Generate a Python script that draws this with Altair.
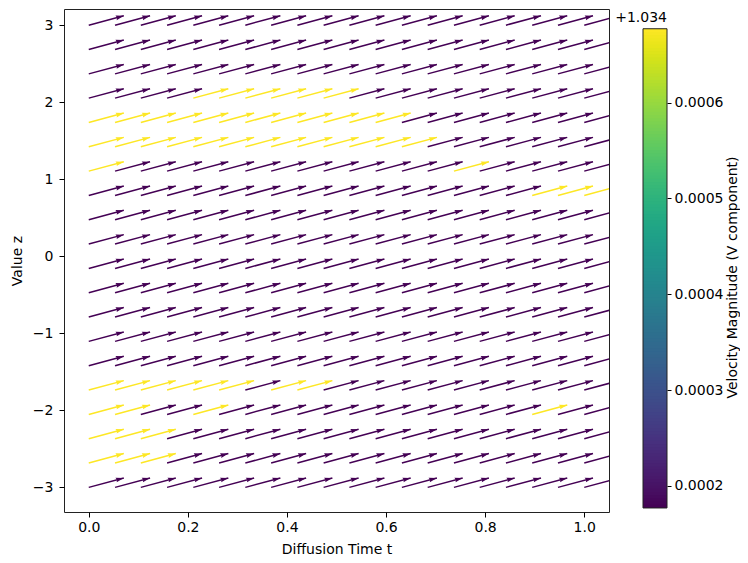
import altair as alt
import numpy as np
import pandas as pd

# ---- data ----
T_GRID = [0.000, 0.053, 0.105, 0.158, 0.211, 0.263, 0.316, 0.368, 0.421, 0.474,
          0.526, 0.579, 0.632, 0.684, 0.737, 0.789, 0.842, 0.895, 0.947, 1.000]
Z_GRID = [3.000, 2.684, 2.368, 2.053, 1.737, 1.421, 1.105, 0.789, 0.474, 0.158,
          -0.158, -0.474, -0.789, -1.105, -1.421, -1.737, -2.053, -2.368, -2.684, -3.000]

# arrow displacement (data units)
ARROW_DT = 0.0707
ARROW_DZ = 0.1226

# V component: base offset + low / high level
V_BASE = 1.034
V_LOW = 0.000177
V_HIGH = 0.000677

# '#' = high-magnitude (yellow) cell, '.' = low (purple); rows from z=3 down to z=-3
HIGH_MASK = [
    "....................",
    "....................",
    "....................",
    "....######..........",
    "############........",
    "#############.......",
    "#.............#.....",
    ".................###",
    "....................",
    "....................",
    "....................",
    "....................",
    "....................",
    "....................",
    "....................",
    "######.##...........",
    "##..#............#..",
    "###.................",
    "###.................",
    "....................",
]

X_TICKS = [0.0, 0.2, 0.4, 0.6, 0.8, 1.0]
Z_TICKS = [-3, -2, -1, 0, 1, 2, 3]
CB_TICKS = [0.0002, 0.0003, 0.0004, 0.0005, 0.0006]

# ---- layout ----
W, H = 545, 503
X_DOMAIN = [-0.05, 1.05]
Z_DOMAIN = [-3.32, 3.21]
CB_W = 24
CB_DOMAIN = [0.0001728, 0.0006976]
FONT = "DejaVu Sans"
FS = 14

rows = []
for i, z in enumerate(Z_GRID):
    for j, t in enumerate(T_GRID):
        off = V_HIGH if HIGH_MASK[i][j] == "#" else V_LOW
        rows.append({"t": t, "z": z, "t_end": t + ARROW_DT, "z_end": z + ARROW_DZ,
                     "v": V_BASE + off})
df = pd.DataFrame(rows)

px_dt = ARROW_DT * W / (X_DOMAIN[1] - X_DOMAIN[0])
px_dz = ARROW_DZ * H / (Z_DOMAIN[1] - Z_DOMAIN[0])
head_angle = (360 - np.degrees(np.arctan2(px_dz, px_dt))) % 360

color_scale = alt.Scale(scheme="viridis", domain=[V_BASE + V_LOW, V_BASE + V_HIGH])
color = alt.Color("v:Q", scale=color_scale, legend=None)

xscale = alt.Scale(domain=X_DOMAIN, nice=False, zero=False)
yscale = alt.Scale(domain=Z_DOMAIN, nice=False, zero=False)

shafts = alt.Chart(df).mark_rule(strokeWidth=1.5, clip=True).encode(
    x=alt.X("t:Q", scale=xscale,
            axis=alt.Axis(values=X_TICKS, format=".1f", title="Diffusion Time t",
                          labelPadding=3, titlePadding=8)),
    y=alt.Y("z:Q", scale=yscale,
            axis=alt.Axis(values=Z_TICKS, format="d", title="Value z",
                          labelPadding=6, titlePadding=8)),
    x2="t_end:Q",
    y2="z_end:Q",
    color=color,
)

HEAD_PATH = "M0,0 L-1,-0.3 L-0.88,0 L-1,0.3 Z"
heads = alt.Chart(df).mark_point(shape=HEAD_PATH, filled=True, size=256, clip=True,
                                 angle=float(head_angle), opacity=1, strokeWidth=0).encode(
    x=alt.X("t_end:Q", scale=xscale),
    y=alt.Y("z_end:Q", scale=yscale),
    color=color,
)

main = alt.layer(shafts, heads).properties(
    width=W, height=H,
    view=alt.ViewBackground(stroke="#222222", strokeWidth=1),
)

# ---- colorbar ----
n = 150
offs = np.linspace(V_LOW, V_HIGH, n + 1)
step = offs[1] - offs[0]
cb_df = pd.DataFrame({
    "lo": offs[:-1],
    "hi": np.minimum(offs[:-1] + 1.6 * step, V_HIGH),
    "v": V_BASE + (offs[:-1] + offs[1:]) / 2,
})
cbscale = alt.Scale(domain=CB_DOMAIN, nice=False, zero=False)

grad = alt.Chart(cb_df).mark_rect().encode(
    y=alt.Y("lo:Q", scale=cbscale,
            axis=alt.Axis(orient="right", values=CB_TICKS, format=".4f",
                          title="Velocity Magnitude (V component)",
                          titleAngle=270, titleBaseline="middle", titleX=65, titleY=268,
                          tickSize=4, labelPadding=3)),
    y2="hi:Q",
    color=color,
)

frame = alt.Chart(pd.DataFrame({"lo": [V_LOW], "hi": [V_HIGH]})).mark_rect(
    fillOpacity=0, stroke="#222222", strokeWidth=1).encode(
    y=alt.Y("lo:Q", scale=cbscale), y2="hi:Q")

offset_label = alt.Chart(pd.DataFrame({"off": [V_HIGH], "label": [f"+{V_BASE:.3f}"]})).mark_text(
    align="right", baseline="bottom", dy=-4, fontSize=FS, font=FONT, color="black").encode(
    y=alt.Y("off:Q", scale=cbscale),
    x=alt.value(CB_W),
    text="label:N",
)

colorbar = alt.layer(grad, frame, offset_label).properties(
    width=CB_W, height=H,
    view=alt.ViewBackground(stroke="transparent"),
)

chart = alt.hconcat(main, colorbar, spacing=34, bounds="flush").properties(
    padding={"left": 1, "top": 0, "right": 0, "bottom": 0}
).configure_axis(
    grid=False, domain=False, tickColor="black", tickSize=5, tickWidth=1,
    labelFont=FONT, titleFont=FONT, labelFontSize=FS, titleFontSize=FS,
    labelColor="black", titleColor="black", titleFontWeight="normal",
).configure_view(stroke="#222222")

chart.save("out.html", embed_options={"renderer": "svg", "actions": False})
